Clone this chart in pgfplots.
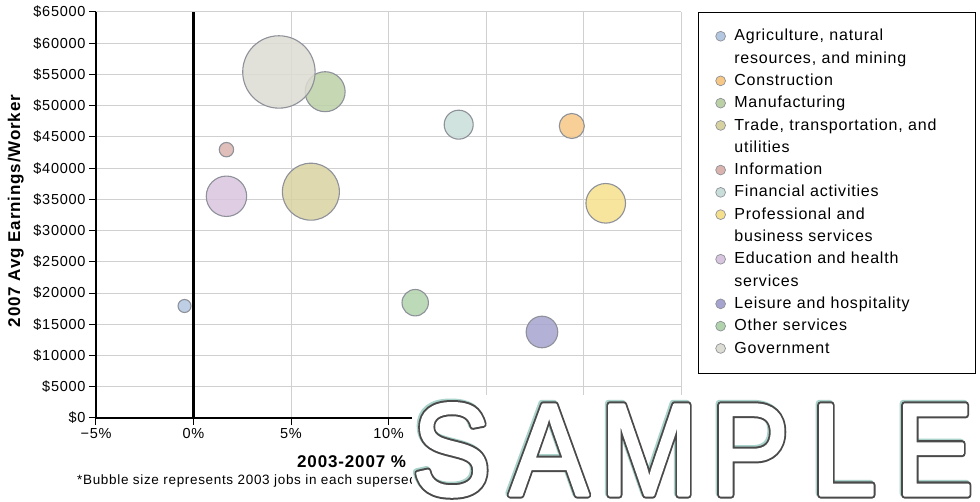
\documentclass[border=0pt]{standalone}
\usepackage{fontspec}
\setmainfont{Liberation Sans}
\newfontfamily\tickfont[LetterSpace=5]{Liberation Sans}
\newfontfamily\legfont[LetterSpace=5]{Liberation Sans}
\newfontfamily\wmfont{Liberation Sans}
\usepackage{pgfplots}
\pgfplotsset{compat=1.18}
\definecolor{gridgray}{HTML}{D0D0D0}
\definecolor{edgegray}{HTML}{8E9199}
\definecolor{cAgri}{HTML}{B3C7E0}
\definecolor{cCons}{HTML}{F7C885}
\definecolor{cManu}{HTML}{BCD0A6}
\definecolor{cTrade}{HTML}{D8D2A0}
\definecolor{cInfo}{HTML}{DAB3AE}
\definecolor{cFin}{HTML}{C9DED9}
\definecolor{cProf}{HTML}{F6DF8C}
\definecolor{cEdu}{HTML}{D9C4DF}
\definecolor{cLeis}{HTML}{A6A3CF}
\definecolor{cOther}{HTML}{B1D3AC}
\definecolor{cGov}{HTML}{DCDCD2}
\definecolor{wmteal}{HTML}{A9D3CB}
\definecolor{wmdark}{HTML}{4A4A4A}
\pgfplotsset{
  bub/.style 2 args={only marks, mark=*, mark size=#2,
    mark options={fill=#1, draw=edgegray, line width=1.1pt, fill opacity=0.85},
    legend image code/.code={\draw[fill=#1, draw=edgegray, line width=0.7pt] (5pt,0.4pt) circle (4.9pt);}},
}
\newcommand{\wmletter}[3]{%
  \node[anchor=base, inner sep=0pt, text=wmteal, xscale=0.9] at (#1-1.5,#2+1.5) {\wmfont\fontsize{131}{131}\selectfont\special{pdf:literal direct 1 j 7 w 1 Tr}#3\special{pdf:literal direct 0 Tr}};
  \node[anchor=base, inner sep=0pt, text=wmdark, xscale=0.9] at (#1,#2) {\wmfont\fontsize{131}{131}\selectfont\special{pdf:literal direct 1 j 7 w 1 Tr}#3\special{pdf:literal direct 0 Tr}};
  \node[anchor=base, inner sep=0pt, text=white, xscale=0.9] at (#1,#2) {\wmfont\fontsize{131}{131}\selectfont\special{pdf:literal direct 1 j 3 w 2 Tr}#3\special{pdf:literal direct 0 Tr}};
}
\begin{document}
\begin{tikzpicture}[x=1pt,y=1pt]
\useasboundingbox (0,0) rectangle (980,502);
\begin{axis}[
  at={(96pt,84pt)}, anchor=south west, scale only axis,
  width=585pt, height=406pt,
  xmin=-5, xmax=25, ymin=0, ymax=65000,
  axis x line*=bottom, axis y line*=left,
  x axis line style={line width=2.4pt},
  y axis line style={line width=1.8pt},
  tick align=outside, major tick length=7pt,
  tick style={black, line width=1pt},
  xtick={-5,0,5,10,15,20,25},
  xticklabels={−5\%,0\%,5\%,10\%,,,},
  ytick={0,5000,...,65000},
  yticklabels={\$0,\$5000,\$10000,\$15000,\$20000,\$25000,\$30000,\$35000,\$40000,\$45000,\$50000,\$55000,\$60000,\$65000},
  grid=major, major grid style={draw=gridgray, line width=1pt},
  ticklabel style={font=\tickfont\fontsize{14.5}{16}\selectfont},
  legend cell align=left,
  legend style={at={(1.029,1)}, anchor=north west, draw=black, line width=0.8pt,
    inner xsep=17pt, inner ysep=13.5pt, row sep=0.8pt, column sep=8.5pt,
    font=\legfont\fontsize{16}{19}\selectfont,
    nodes={text width=224pt, align=left, inner sep=0pt, text height=15pt, text depth=6.5pt}},
]
\addplot[black, line width=2.5pt, forget plot] coordinates {(0,0) (0,65000)};
\addplot[bub={cAgri}{6.5pt}] coordinates {(-0.46,17930)};
\addlegendentry{Agriculture, natural}
\addlegendimage{empty legend}
\addlegendentry{resources, and mining}
\addplot[bub={cCons}{12.5pt}] coordinates {(19.4,46750)};
\addlegendentry{Construction}
\addplot[bub={cManu}{20pt}] coordinates {(6.75,52240)};
\addlegendentry{Manufacturing}
\addplot[bub={cTrade}{28.5pt}] coordinates {(6.02,36230)};
\addlegendentry{Trade, transportation, and}
\addlegendimage{empty legend}
\addlegendentry{utilities}
\addplot[bub={cInfo}{7.2pt}] coordinates {(1.69,42960)};
\addlegendentry{Information}
\addplot[bub={cFin}{14.5pt}] coordinates {(13.6,46960)};
\addlegendentry{Financial activities}
\addplot[bub={cProf}{19.8pt}] coordinates {(21.14,34370)};
\addlegendentry{Professional and}
\addlegendimage{empty legend}
\addlegendentry{business services}
\addplot[bub={cEdu}{20.2pt}] coordinates {(1.69,35500)};
\addlegendentry{Education and health}
\addlegendimage{empty legend}
\addlegendentry{services}
\addplot[bub={cLeis}{15.8pt}] coordinates {(17.87,13770)};
\addlegendentry{Leisure and hospitality}
\addplot[bub={cOther}{13.2pt}] coordinates {(11.37,18460)};
\addlegendentry{Other services}
\addplot[bub={cGov}{36.2pt}] coordinates {(4.38,55400)};
\addlegendentry{Government}
\end{axis}
\node[font=\legfont\bfseries\fontsize{17}{20}\selectfont, rotate=90, anchor=base] at (20,291) {2007 Avg Earnings/Worker};
\node[font=\legfont\bfseries\fontsize{17}{20}\selectfont, anchor=base west, inner sep=0pt] at (297,34) {2003-2007 \%};
\node[font=\legfont\fontsize{13.5}{16}\selectfont, anchor=base west, inner sep=0pt] at (77,17) {*Bubble size represents 2003 jobs in each supersector};
\fill[white] (412,0) rectangle (980,107);
\wmletter{451.5}{7}{S}
\wmletter{549}{7}{A}
\wmletter{649}{7}{M}
\wmletter{750}{7}{P}
\wmletter{843.5}{7}{L}
\wmletter{934}{7}{E}
\end{tikzpicture}
\end{document}
